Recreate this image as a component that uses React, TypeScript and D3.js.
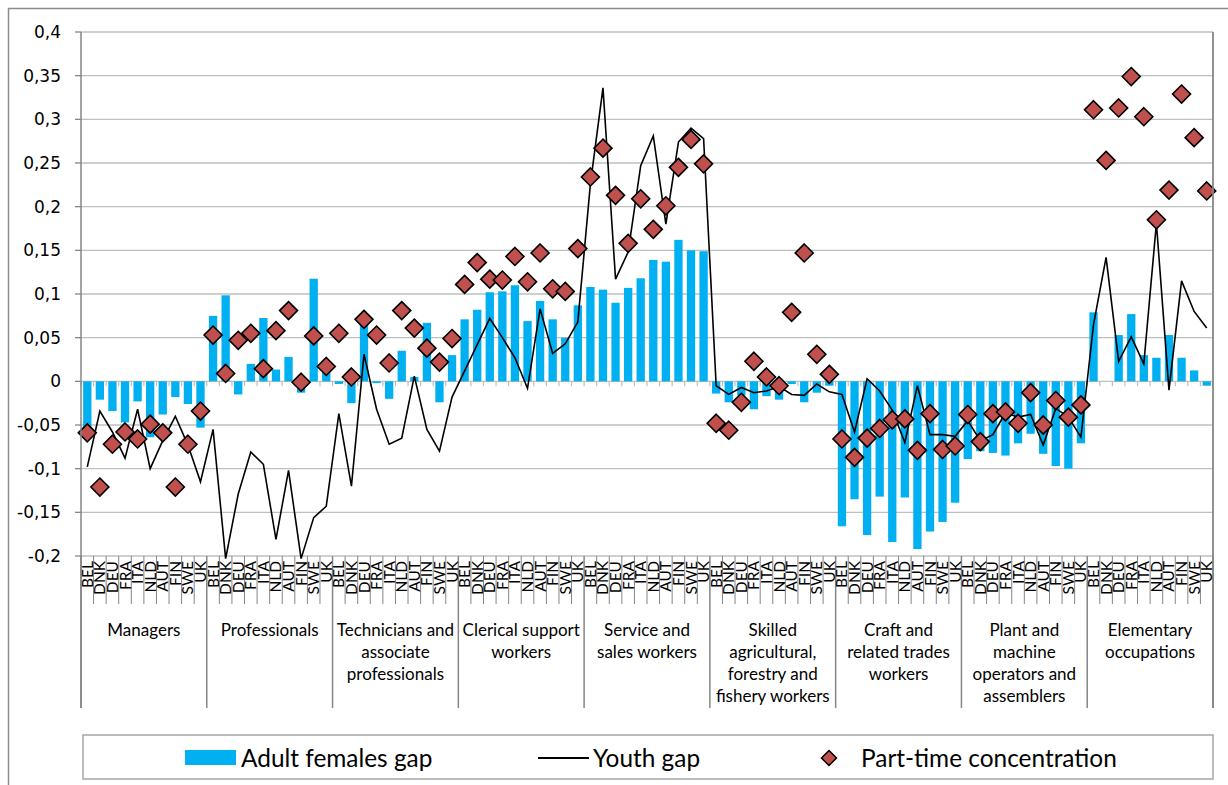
import React from 'react';
import * as d3 from 'd3';

const countries = ['BEL', 'DNK', 'DEU', 'FRA', 'ITA', 'NLD', 'AUT', 'FIN', 'SWE', 'UK'];

const groups: string[][] = [
  ['Managers'],
  ['Professionals'],
  ['Technicians and', 'associate', 'professionals'],
  ['Clerical support', 'workers'],
  ['Service and', 'sales workers'],
  ['Skilled', 'agricultural,', 'forestry and', 'fishery workers'],
  ['Craft and', 'related trades', 'workers'],
  ['Plant and', 'machine', 'operators and', 'assemblers'],
  ['Elementary', 'occupations'],
];

// Adult females gap (bars), 10 countries per occupation group
const adultFemalesGap = [
  -0.055, -0.021, -0.034, -0.047, -0.023, -0.064, -0.038, -0.018, -0.026, -0.053,
  0.075, 0.0985, -0.015, 0.02, 0.0725, 0.0135, 0.028, -0.013, 0.1175, 0.016,
  -0.003, -0.025, 0.07, -0.002, -0.02, 0.035, 0.005, 0.067, -0.024, 0.03,
  0.071, 0.082, 0.102, 0.103, 0.11, 0.069, 0.092, 0.071, 0.05, 0.087,
  0.108, 0.105, 0.09, 0.107, 0.118, 0.139, 0.137, 0.162, 0.15, 0.149,
  -0.014, -0.024, -0.016, -0.032, -0.017, -0.021, -0.003, -0.024, -0.013, -0.005,
  -0.166, -0.135, -0.176, -0.132, -0.184, -0.133, -0.192, -0.172, -0.161, -0.139,
  -0.089, -0.08, -0.082, -0.085, -0.071, -0.06, -0.083, -0.097, -0.1, -0.071,
  0.079, 0, 0.053, 0.077, 0.03, 0.027, 0.053, 0.027, 0.0125, -0.005,
];

// Youth gap (line)
const youthGap = [
  -0.098, -0.034, -0.058, -0.088, -0.032, -0.1, -0.068, -0.04, -0.073, -0.115,
  -0.055, -0.203, -0.129, -0.081, -0.095, -0.181, -0.102, -0.203, -0.156, -0.143,
  -0.037, -0.12, 0.031, -0.032, -0.072, -0.065, 0.006, -0.055, -0.08, -0.018,
  0.012, 0.042, 0.072, 0.05, 0.027, -0.008, 0.083, 0.032, 0.043, 0.068,
  0.226, 0.336, 0.117, 0.148, 0.247, 0.281, 0.18, 0.274, 0.29, 0.278,
  -0.005, -0.015, -0.007, -0.013, -0.011, -0.006, -0.015, -0.016, -0.003, -0.012,
  -0.015, -0.058, 0.003, -0.011, -0.033, -0.07, -0.005, -0.061, -0.061, -0.063,
  -0.045, -0.068, -0.061, -0.036, -0.041, -0.038, -0.073, -0.031, -0.041, -0.064,
  0.065, 0.142, 0.023, 0.051, 0.02, 0.181, -0.01, 0.115, 0.08, 0.061,
];

// Part-time concentration (diamonds)
const partTimeConcentration = [
  -0.059, -0.121, -0.072, -0.058, -0.066, -0.049, -0.059, -0.121, -0.072, -0.034,
  0.053, 0.009, 0.047, 0.055, 0.0145, 0.058, 0.081, -0.001, 0.052, 0.017,
  0.055, 0.005, 0.071, 0.053, 0.021, 0.081, 0.061, 0.038, 0.022, 0.049,
  0.111, 0.136, 0.117, 0.116, 0.143, 0.114, 0.147, 0.106, 0.103, 0.152,
  0.234, 0.267, 0.213, 0.158, 0.209, 0.174, 0.201, 0.245, 0.277, 0.249,
  -0.048, -0.056, -0.024, 0.023, 0.005, -0.005, 0.079, 0.147, 0.031, 0.008,
  -0.066, -0.087, -0.065, -0.054, -0.044, -0.043, -0.079, -0.037, -0.078, -0.074,
  -0.038, -0.069, -0.037, -0.035, -0.048, -0.013, -0.05, -0.022, -0.041, -0.027,
  0.311, 0.253, 0.313, 0.349, 0.303, 0.185, 0.219, 0.329, 0.279, 0.218,
];

const yTicks = [0.4, 0.35, 0.3, 0.25, 0.2, 0.15, 0.1, 0.05, 0, -0.05, -0.1, -0.15, -0.2];

const legendItems = ['Adult females gap', 'Youth gap', 'Part-time concentration'];

const FONT = 'Lato, "Open Sans", "DejaVu Sans", sans-serif';
const TICKFONT = '"DejaVu Sans", "Open Sans", sans-serif';
const BAR = '#00B0F0';
const DIAMOND = '#C0504D';
const GRID = '#BFBFBF';
const AXIS = '#868686';

const fmt = (v: number) => String(+v.toFixed(2)).replace('.', ',');

export default function App() {
  const W = 1228;
  const H = 785;
  const L = 81;
  const R = 1213;
  const T = 32;
  const B = 556;

  const n = groups.length * countries.length;
  const idx = d3.range(n);
  const x = d3.scaleBand<number>().domain(idx).range([L, R]).paddingInner(0.34).paddingOuter(0.17);
  const step = (R - L) / n;
  const cx = (i: number) => (x(i) as number) + x.bandwidth() / 2;
  const y = d3.scaleLinear().domain([-0.2, 0.4]).range([B, T]);

  const line = d3
    .line<number>()
    .x((_, i) => cx(i))
    .y((d) => y(d));

  const diamond = (s: number) => `M0,${-s}L${s},0L0,${s}L${-s},0Z`;

  return (
    <div style={{ position: 'absolute', left: 0, top: 0 }}>
      <svg width={W} height={H} style={{ display: 'block', background: '#fff' }} fontFamily={FONT}>
        {/* outer chart border */}
        <rect x={8.5} y={8.5} width={1260} height={820} fill="none" stroke="#8c8c8c" strokeWidth={1.5} />

        {/* gridlines */}
        {yTicks.map((t) => (
          <line key={'g' + t} x1={L} x2={R} y1={y(t)} y2={y(t)} stroke={GRID} strokeWidth={1.4} />
        ))}

        {/* bars */}
        {adultFemalesGap.map((v, i) => (
          <rect
            key={'b' + i}
            x={x(i) as number}
            y={Math.min(y(v), y(0))}
            width={x.bandwidth()}
            height={Math.abs(y(v) - y(0))}
            fill={BAR}
          />
        ))}

        {/* ticks on zero category axis */}
        {d3.range(n + 1).map((k) => (
          <line key={'zt' + k} x1={L + k * step} x2={L + k * step} y1={y(0)} y2={y(0) + 5} stroke={GRID} strokeWidth={1.2} />
        ))}

        {/* youth gap line */}
        <path d={line(youthGap) || ''} fill="none" stroke="#000" strokeWidth={1.6} strokeLinejoin="miter" />

        {/* diamonds */}
        {partTimeConcentration.map((v, i) => (
          <path
            key={'d' + i}
            d={diamond(9)}
            transform={`translate(${cx(i)},${y(v)})`}
            fill={DIAMOND}
            stroke="#000"
            strokeWidth={1.6}
          />
        ))}

        {/* y axis */}
        <line x1={L} x2={L} y1={T} y2={708} stroke={AXIS} strokeWidth={1.5} />
        <line x1={R} x2={R} y1={T} y2={708} stroke={AXIS} strokeWidth={1.8} />
        {yTicks.map((t) => (
          <g key={'yt' + t}>
            <line x1={L - 6} x2={L} y1={y(t)} y2={y(t)} stroke={AXIS} strokeWidth={1.3} />
            <text x={61} y={y(t)} dy="0.36em" textAnchor="end" fontSize={17} fontFamily={TICKFONT} fill="#000">
              {fmt(t)}
            </text>
          </g>
        ))}

        {/* category separators and country labels */}
        {d3.range(n + 1).map((k) => (
          <line
            key={'cs' + k}
            x1={L + k * step}
            x2={L + k * step}
            y1={B}
            y2={k % countries.length === 0 ? 708 : 604}
            stroke={AXIS}
            strokeWidth={k % countries.length === 0 ? 1.5 : 1}
          />
        ))}
        {idx.map((i) => (
          <text
            key={'cl' + i}
            transform={`translate(${cx(i) + 5.5},${561}) rotate(-90)`}
            textAnchor="end"
            fontSize={15.5}
            fill="#000"
          >
            {countries[i % countries.length]}
          </text>
        ))}

        {/* group labels */}
        {groups.map((lines, g) => {
          const gx = L + (g + 0.5) * step * countries.length;
          return (
            <text key={'gl' + g} x={gx} textAnchor="middle" fontSize={17} fill="#000">
              {lines.map((s, j) => (
                <tspan key={j} x={gx} y={636 + j * 22}>
                  {s}
                </tspan>
              ))}
            </text>
          );
        })}

        {/* legend */}
        <rect x={83} y={735} width={1130} height={44} fill="#fff" stroke="#a6a6a6" strokeWidth={1.5} />
        <rect x={185} y={750} width={51} height={15} fill={BAR} />
        <text x={241} y={758} dy="0.35em" fontSize={24.4} fill="#000">
          {legendItems[0]}
        </text>
        <line x1={538} x2={589} y1={758} y2={758} stroke="#000" strokeWidth={2} />
        <text x={593} y={758} dy="0.35em" fontSize={24.4} fill="#000">
          {legendItems[1]}
        </text>
        <path d={diamond(7.5)} transform="translate(829,758)" fill={DIAMOND} stroke="#000" strokeWidth={1.5} />
        <text x={861} y={758} dy="0.35em" fontSize={24.4} fill="#000">
          {legendItems[2]}
        </text>
      </svg>
    </div>
  );
}
